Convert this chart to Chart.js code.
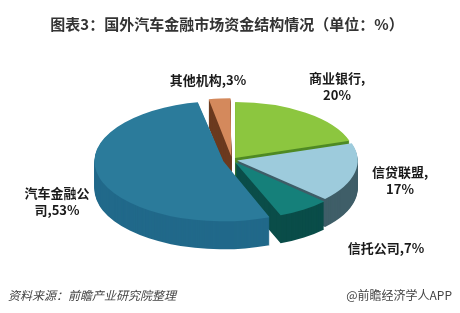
<!DOCTYPE html>
<html>
<head>
<meta charset="utf-8">
<script src="https://cdn.jsdelivr.net/npm/chart.js@4.4.0/dist/chart.umd.min.js"></script>
<style>
  html, body { margin: 0; padding: 0; background: #fff; }
  canvas { display: block; }
</style>
</head>
<body>
<canvas id="graficoFundos" width="460" height="313"></canvas>
<script>
// dados
const categorias = ['商业银行', '信贷联盟', '信托公司', '汽车金融公司', '其他机构'];
const valores = [20, 17, 7, 53, 3];

// estilo das fatias
const corTopo = ['#8cc63f', '#9dcbdc', '#15807a', '#2b7b9b', '#d4895c'];
const corLado = ['#4f8a24', '#3f5e68', '#0a4d49', '#21698a', '#6b3a1f'];
const deslocamento = [15, 15, 15, 26, 20];

// rótulos: posição na tela e onde quebra a linha (0 = não quebra)
const rotuloPos = [[337, 78], [400, 172], [386, 248], [57, 193], [208, 80]];
const rotuloQuebra = [5, 5, 0, 5, 0];

const CENTRO_X = 232, CENTRO_Y = 160;
const RAIO_X = 120, RAIO_Y = 56;
const PROFUNDIDADE = 28;
const FONTE = '"Noto Sans CJK SC", "Noto Sans", sans-serif';

// pizza "3D": achata o círculo e empilha as laterais
const pizza3d = {
  id: 'pizza3d',
  beforeDatasetsDraw(chart) {
    const ctx = chart.ctx;
    const arcos = chart.getDatasetMeta(0).data;
    const cx = arcos[0].x, cy = arcos[0].y, r = arcos[0].outerRadius;
    const sx = RAIO_X / r, sy = RAIO_Y / r;
    const transf = (d) => {
      ctx.translate(CENTRO_X, CENTRO_Y + d);
      ctx.scale(sx, sy);
      ctx.translate(-cx, -cy);
    };
    for (let d = PROFUNDIDADE; d > 0; d--) {
      ctx.save();
      transf(d);
      arcos.forEach((a, i) => {
        const lado = Object.create(a);
        lado.options = Object.assign({}, a.options, { backgroundColor: corLado[i] });
        lado.draw(ctx);
      });
      ctx.restore();
    }
    ctx.save();
    transf(0);
  },
  afterDatasetsDraw(chart) {
    chart.ctx.restore();
  }
};

// título, rótulos e rodapé
const textos = {
  id: 'textos',
  afterDraw(chart) {
    const ctx = chart.ctx;
    ctx.save();
    ctx.textBaseline = 'middle';

    ctx.fillStyle = '#333';
    ctx.textAlign = 'center';
    ctx.font = 'bold 15px ' + FONTE;
    ctx.fillText('图表3：国外汽车金融市场资金结构情况（单位：%）', 227, 24);

    ctx.fillStyle = '#1a1a1a';
    ctx.font = 'bold 13px ' + FONTE;
    categorias.forEach((c, i) => {
      const txt = c + ',' + valores[i] + '%';
      const q = rotuloQuebra[i];
      const linhas = q ? [txt.slice(0, q), txt.slice(q)] : [txt];
      linhas.forEach((l, j) => ctx.fillText(l, rotuloPos[i][0], rotuloPos[i][1] + j * 17));
    });

    ctx.fillStyle = '#444';
    ctx.font = 'italic 12px ' + FONTE;
    ctx.textAlign = 'left';
    ctx.fillText('资料来源：前瞻产业研究院整理', 8, 295);
    ctx.font = '12px ' + FONTE;
    ctx.textAlign = 'right';
    ctx.fillText('@前瞻经济学人APP', 452, 295);
    ctx.restore();
  }
};

const ctxFundos = document.getElementById('graficoFundos').getContext('2d');
new Chart(ctxFundos, {
  type: 'pie',
  data: {
    labels: categorias,
    datasets: [{
      data: valores,
      backgroundColor: corTopo,
      borderWidth: 0,
      offset: deslocamento
    }]
  },
  options: {
    responsive: false,
    animation: false,
    layout: { padding: { left: 130, right: 130, top: 56, bottom: 57 } },
    plugins: {
      legend: { display: false },
      tooltip: { enabled: false }
    }
  },
  plugins: [pizza3d, textos]
});
</script>
</body>
</html>
